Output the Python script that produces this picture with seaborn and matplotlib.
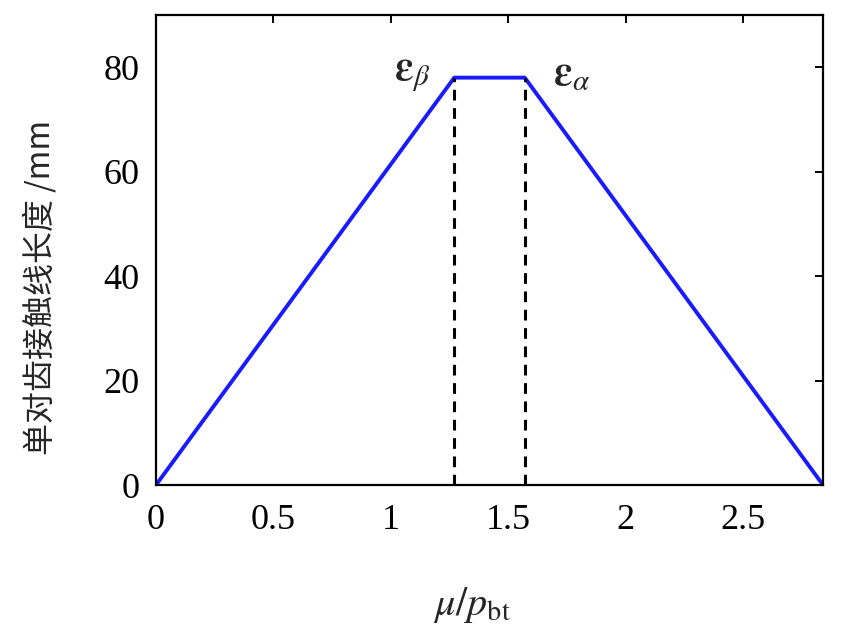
import matplotlib
matplotlib.use('Agg')
import matplotlib.pyplot as plt
import seaborn as sns
import pandas as pd

# data
mu = [0, 1.27, 1.57, 2.84]
length = [0, 78, 78, 0]
eps_beta = 1.27
eps_alpha = 1.57
xticks = [0, 0.5, 1, 1.5, 2, 2.5]
yticks = [0, 20, 40, 60, 80]

sns.set_style('white')
plt.rcParams['font.family'] = ['Liberation Serif', 'DejaVu Serif']
plt.rcParams['mathtext.fontset'] = 'stix'

df = pd.DataFrame({'mu': mu, 'len': length})

fig = plt.figure(figsize=(8.45, 6.37), dpi=100)
ax = fig.add_axes([0.1846, 0.2386, 0.7894, 0.7379])

sns.lineplot(data=df, x='mu', y='len', ax=ax, color='#1a1aff', linewidth=2.8,
             sort=False, estimator=None)

# dashed drop lines at plateau ends
for xv in [eps_beta, eps_alpha]:
    ax.plot([xv, xv], [0, length[1]], color='black', linestyle=(0, (3.5, 2.5)), linewidth=2.2)

ax.set_xlim(0, mu[-1])
ax.set_ylim(0, 90)
ax.set_xticks(xticks)
ax.set_xticklabels(['0', '0.5', '1', '1.5', '2', '2.5'])
ax.set_yticks(yticks)
ax.tick_params(direction='in', length=6, width=1.4, top=True, right=True,
               labelsize=26, colors='black')
ax.tick_params(axis='x', pad=14)
ax.tick_params(axis='y', pad=12)
for s in ax.spines.values():
    s.set_color('black')
    s.set_linewidth(1.6)

ax.text(eps_beta - 0.18, length[1] + 0.5, r'$\boldsymbol{\varepsilon}_{\beta}$', fontsize=30,
        ha='center', va='center')
ax.text(eps_alpha + 0.2, length[1] + 0.5, r'$\boldsymbol{\varepsilon}_{\alpha}$', fontsize=30,
        ha='center', va='center')

ax.set_xlabel(r'$\mu/p_{\mathrm{bt}}$', fontsize=29, va='center')
ax.xaxis.set_label_coords(0.474, -0.255)
ax.set_ylabel('单对齿接触线长度 /mm', fontsize=23, va='center',
              family=['Noto Sans CJK SC', 'DejaVu Sans'])
ax.yaxis.set_label_coords(-0.174, 0.42)

fig.savefig('out.png', dpi=100)
